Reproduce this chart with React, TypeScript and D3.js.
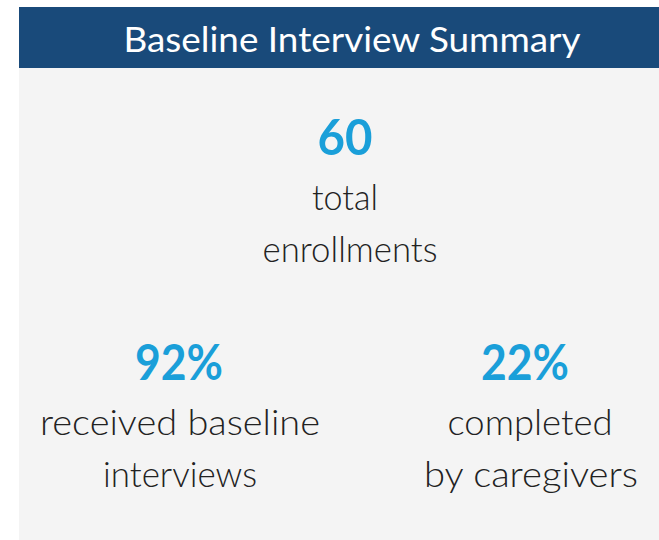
import React from 'react';
import * as d3 from 'd3';

const title = 'Baseline Interview Summary';
const statValues = ['60', '92%', '22%'];
const statLabels = [['total', 'enrollments'], ['received baseline', 'interviews'], ['completed', 'by caregivers']];
// rough widths, used with textLength
const valueWidths = [55, 88, 88];
const labelWidths = [[66, 175], [280, 154], [165, 214]];

const App = () => {
  const width = 659;
  const height = 540;

  const panel = { left: 19, top: 7, headerHeight: 61 };

  // centres of the three blocks
  const xPos = d3.scaleOrdinal<number, number>().domain([0, 1, 2]).range([345, 179, 525]);
  const xLabel = [[345, 350], [180, 180], [530, 531]];
  const yValue = d3.scaleOrdinal<number, number>().domain([0, 1, 2]).range([155, 380, 380]);
  const lineGap = 52;
  const labelOffset = 55;

  return (
    <svg width={width} height={height} style={{ position: 'absolute', left: 0, top: 0 }}>
      <rect x={panel.left} y={panel.top} width={width - panel.left} height={height - panel.top} fill='#f4f4f4' />
      <rect x={panel.left} y={panel.top} width={width - panel.left} height={panel.headerHeight} fill='#194a7a' />
      <text x={352} y={52} textAnchor='middle' fill='#ffffff' fontFamily='Lato' fontSize='35px'
        textLength={457} lengthAdjust='spacingAndGlyphs'>{title}</text>

      {statValues.map((v, i) => (
        <g key={i}>
          <text x={xPos(i)} y={yValue(i)} textAnchor='middle' fill='#1a9fd9' fontFamily='Lato'
            fontWeight={700} fontSize='50px' textLength={valueWidths[i]} lengthAdjust='spacingAndGlyphs'>{v}</text>
          {statLabels[i].map((l, j) => (
            <text key={j} x={xLabel[i][j]} y={yValue(i) + labelOffset + j * lineGap} textAnchor='middle'
              fill='#222222' fontFamily='Lato' fontWeight={300} fontSize='36px'
              textLength={labelWidths[i][j]} lengthAdjust='spacingAndGlyphs'>{l}</text>
          ))}
        </g>
      ))}
    </svg>
  );
};

export default App;
